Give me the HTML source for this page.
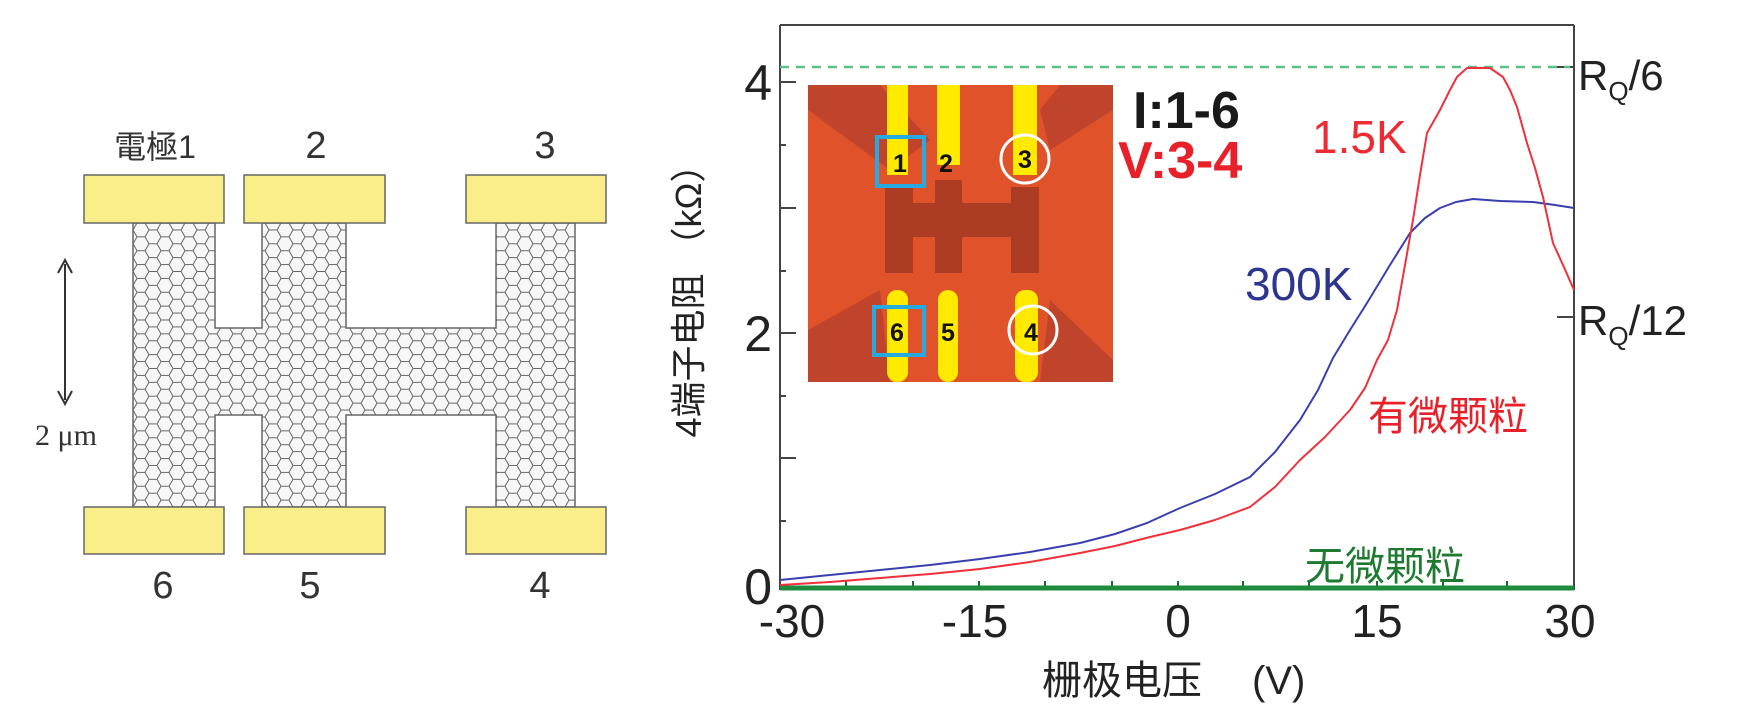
<!DOCTYPE html>
<html><head><meta charset="utf-8"><style>
html,body{margin:0;padding:0;background:#fff;}
svg{display:block;}
text{font-family:"Liberation Sans","Noto Sans CJK SC",sans-serif;}
</style></head><body>
<svg width="1740" height="724" viewBox="0 0 1740 724" xmlns="http://www.w3.org/2000/svg">
<defs>
<pattern id="hex" width="24" height="13.856" patternUnits="userSpaceOnUse" x="133" y="223">
<rect width="24" height="13.856" fill="#f7f7f7"/>
<path d="M0,6.928 L4,0 L12,0 L16,6.928 L12,13.856 L4,13.856 Z M16,6.928 L24,6.928" fill="none" stroke="#666" stroke-width="1"/>
</pattern>
</defs>
<path d="M133,223 H215 V328 H262 V223 H346 V328 H496 V223 H575 V507 H496 V415 H346 V507 H262 V415 H215 V507 H133 Z" fill="url(#hex)" stroke="#666" stroke-width="1.5"/>
<g fill="#f9ee8a" stroke="#666" stroke-width="1.5">
<rect x="84" y="175" width="140" height="48"/>
<rect x="244" y="175" width="141" height="48"/>
<rect x="466" y="175" width="140" height="48"/>
<rect x="84" y="507" width="140" height="47"/>
<rect x="244" y="507" width="141" height="47"/>
<rect x="466" y="507" width="140" height="47"/>
</g>
<g fill="#333" font-size="38" text-anchor="middle">
<text x="155" y="158" font-size="32">電極1</text>
<text x="316" y="158">2</text>
<text x="545" y="158">3</text>
<text x="163" y="598">6</text>
<text x="310" y="598">5</text>
<text x="540" y="598">4</text>
</g>
<line x1="65" y1="264" x2="65" y2="400" stroke="#333" stroke-width="2"/>
<path d="M58,273 L65,260 L72,273 M58,391 L65,404 L72,391" fill="none" stroke="#333" stroke-width="2"/>
<text x="35" y="445" font-size="30" fill="#333" style="font-family:'Liberation Serif',serif">2 μm</text>

<line x1="780" y1="25" x2="1574" y2="25" stroke="#444" stroke-width="2"/>
<line x1="780" y1="25" x2="780" y2="590" stroke="#444" stroke-width="2"/>
<line x1="1574" y1="25" x2="1574" y2="590" stroke="#444" stroke-width="2"/>
<g stroke="#444" stroke-width="2">
<line x1="780" y1="82" x2="796" y2="82"/><line x1="780" y1="145" x2="786" y2="145"/>
<line x1="780" y1="208" x2="796" y2="208"/><line x1="780" y1="271" x2="786" y2="271"/>
<line x1="780" y1="333" x2="796" y2="333"/><line x1="780" y1="396" x2="786" y2="396"/>
<line x1="780" y1="458" x2="796" y2="458"/><line x1="780" y1="521" x2="786" y2="521"/>
<line x1="1557" y1="67" x2="1574" y2="67"/><line x1="1557" y1="317" x2="1574" y2="317"/>
</g>
<line x1="780" y1="67" x2="1570" y2="67" stroke="#5cbf86" stroke-width="2.5" stroke-dasharray="9,7"/>
<line x1="780" y1="588" x2="1574" y2="588" stroke="#1d8c3d" stroke-width="5"/>
<g stroke="#1d6b30" stroke-width="2">
<line x1="846" y1="586" x2="846" y2="581"/><line x1="913" y1="586" x2="913" y2="581"/><line x1="979" y1="586" x2="979" y2="581"/>
<line x1="1045" y1="586" x2="1045" y2="581"/><line x1="1112" y1="586" x2="1112" y2="581"/><line x1="1178" y1="586" x2="1178" y2="581"/>
<line x1="1243" y1="586" x2="1243" y2="581"/><line x1="1309" y1="586" x2="1309" y2="581"/><line x1="1377" y1="586" x2="1377" y2="581"/>
<line x1="1443" y1="586" x2="1443" y2="581"/><line x1="1507" y1="586" x2="1507" y2="581"/>
</g>
<polyline fill="none" stroke="#3a3fb0" stroke-width="2" stroke-linejoin="round" points="780,580 830,575 880,570 930,565 980,559 1030,552 1080,543 1115,534 1147,523 1180,508 1215,494 1250,477 1275,452 1300,420 1318,390 1333,358 1350,330 1367,303 1390,265 1410,233 1425,218 1440,208 1456,202 1473,199 1500,201 1533,202 1555,205 1574,208"/>
<polyline fill="none" stroke="#f0303a" stroke-width="2" stroke-linejoin="round" points="780,585 830,582 880,578 930,574 980,569 1030,562 1080,553 1115,546 1150,537 1180,530 1215,520 1250,507 1275,487 1300,460 1325,437 1350,410 1365,388 1377,360 1388,340 1397,310 1405,265 1413,220 1420,175 1427,133 1440,110 1450,90 1457,77 1467,68 1490,68 1503,77 1510,90 1517,107 1527,143 1535,168 1543,197 1553,243 1563,265 1574,290"/>

<g fill="#222" font-size="50" text-anchor="end">
<text x="772" y="100">4</text>
<text x="772" y="351">2</text>
<text x="772" y="604">0</text>
</g>
<g fill="#222" font-size="46" text-anchor="middle">
<text x="792" y="637">-30</text>
<text x="975" y="637">-15</text>
<text x="1178" y="637">0</text>
<text x="1377" y="637">15</text>
<text x="1570" y="637">30</text>
</g>
<text x="1578" y="90" font-size="42" fill="#222">R<tspan font-size="26" dy="10">Q</tspan><tspan dy="-10">/6</tspan></text>
<text x="1578" y="335" font-size="42" fill="#222">R<tspan font-size="26" dy="10">Q</tspan><tspan dy="-10">/12</tspan></text>
<text x="1042" y="694" font-size="40" fill="#222">栅极电压</text>
<text x="1252" y="694" font-size="40" fill="#222">(V)</text>
<text transform="translate(701,292) rotate(-90)" font-size="36" fill="#222" text-anchor="middle">4端子电阻 （kΩ）</text>

<text x="1312" y="153" font-size="46" fill="#ee2a33">1.5K</text>
<text x="1245" y="300" font-size="46" fill="#2c3590">300K</text>
<text x="1368" y="430" font-size="40" fill="#e8202a">有微颗粒</text>
<text x="1305" y="580" font-size="40" fill="#1e7a30">无微颗粒</text>
<text x="1133" y="128" font-size="52" font-weight="bold" fill="#1a1a1a">I:1-6</text>
<text x="1118" y="178" font-size="52" font-weight="bold" fill="#e8202a">V:3-4</text>

<g>
<rect x="808" y="85" width="305" height="297" fill="#e0522a"/>
<path d="M808,85 L880,85 L930,140 L890,170 L808,110 Z" fill="#b8412c" opacity="0.8"/>
<path d="M1060,85 L1113,85 L1113,110 L1050,150 L1040,110 Z" fill="#b8412c" opacity="0.8"/>
<path d="M808,382 L808,330 L880,290 L890,382 Z" fill="#b8412c" opacity="0.8"/>
<path d="M1113,382 L1113,360 L1050,300 L1040,382 Z" fill="#b8412c" opacity="0.8"/>
<g fill="#ffea00">
<rect x="887" y="85" width="21" height="90"/>
<rect x="937" y="85" width="23" height="80"/>
<rect x="1013" y="85" width="24" height="90"/>
<rect x="887" y="290" width="21" height="92" rx="10"/>
<rect x="938" y="290" width="20" height="92" rx="10"/>
<rect x="1015" y="290" width="23" height="92" rx="10"/>
</g>
<g fill="#a83a24" opacity="0.9">
<rect x="885" y="187" width="28" height="86"/>
<rect x="935" y="180" width="27" height="93"/>
<rect x="1011" y="187" width="28" height="86"/>
<rect x="885" y="203" width="154" height="34"/>
</g>
<g fill="none" stroke="#27a9e1" stroke-width="4">
<rect x="877" y="137" width="47" height="49"/>
<rect x="874" y="307" width="50" height="48"/>
</g>
<g fill="none" stroke="#fff" stroke-width="3">
<circle cx="1025" cy="159" r="24"/>
<circle cx="1033" cy="330" r="24"/>
</g>
<g fill="#111" font-size="25" font-weight="bold" text-anchor="middle">
<text x="900" y="172">1</text><text x="946" y="172">2</text><text x="1025" y="168">3</text>
<text x="897" y="341">6</text><text x="948" y="341">5</text><text x="1031" y="341">4</text>
</g>
</g>
</svg>
</body></html>
